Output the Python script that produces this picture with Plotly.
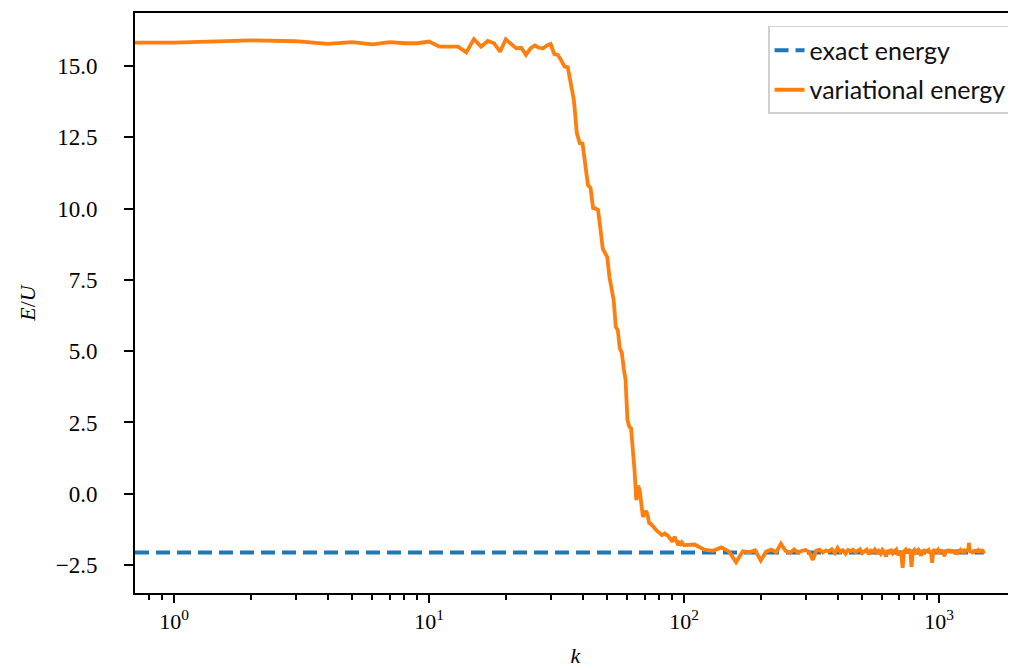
import plotly.graph_objects as go

# ---------------- data ----------------
EXACT_ENERGY = -2.06

# iterations 0..100 (one value per iteration)
k_head = list(range(0, 101))
e_head = [
    15.82, 15.82, 15.90, 15.87, 15.78, 15.84, 15.76, 15.84, 15.80, 15.80,   # 0-9
    15.86, 15.68, 15.68, 15.68, 15.48, 15.94, 15.68, 15.88, 15.80, 15.50,   # 10-19
    15.94, 15.78, 15.62, 15.64, 15.39, 15.62, 15.72, 15.64, 15.62, 15.72,   # 20-29
    15.77, 15.42, 15.39, 15.20, 14.98, 14.96, 14.40, 13.80, 12.65, 12.30,   # 30-39
    12.28, 11.47, 10.83, 10.72, 10.02, 10.00, 9.95, 9.30, 8.60, 8.45,       # 40-49
    8.30, 7.60, 7.10, 6.79, 5.85, 5.74, 5.10, 4.95, 4.40, 3.99,             # 50-59
    2.60, 2.35, 2.30, 1.60, 0.80, -0.22, 0.28, 0.13, -0.45, -0.81,          # 60-69
    -0.70, -0.60, -0.75, -1.03, -1.05, -1.12, -1.20, -1.25, -1.28, -1.33,   # 70-79
    -1.38, -1.42, -1.45, -1.42, -1.39, -1.44, -1.45, -1.50, -1.55, -1.60,   # 80-89
    -1.68, -1.58, -1.51, -1.62, -1.70, -1.80, -1.72, -1.76, -1.70, -1.74,   # 90-99
    -1.80,                                                                  # 100
]

# iterations 110..1500, every 10th
k_tail = list(range(110, 1501, 10))
e_tail = [
    -1.78, -1.96, -2.00, -1.88, -2.02, -2.40, -2.02, -2.05, -1.98, -2.34,   # 110-200
    -2.03, -1.96, -2.05, -1.75, -2.00, -2.08, -1.95, -2.06, -2.00, -1.97,   # 210-300
    -2.05, -2.32, -2.00, -1.96, -2.06, -1.99, -2.02, -1.95, -2.08, -1.90,   # 310-400
    -2.04, -1.98, -2.10, -1.97, -2.02, -1.96, -2.05, -2.00, -1.95, -2.08,   # 410-500
    -2.00, -1.96, -2.12, -1.99, -2.03, -1.95, -2.06, -2.00, -2.10, -1.97,   # 510-600
    -2.04, -2.20, -1.98, -2.05, -1.95, -2.08, -2.02, -1.96, -2.15, -2.05,   # 610-700
    -2.00, -2.60, -2.02, -1.96, -2.08, -2.00, -1.95, -2.56, -2.02, -1.97,   # 710-800
    -2.10, -2.00, -1.96, -2.05, -2.18, -1.98, -2.03, -1.95, -2.06, -2.00,   # 810-900
    -1.97, -2.08, -2.02, -2.42, -2.00, -1.95, -2.06, -2.01, -1.97, -2.10,   # 910-1000
    -2.00, -1.96, -2.05, -2.00, -2.20, -1.97, -2.04, -1.95, -2.06, -2.00,   # 1010-1100
    -2.02, -1.96, -2.08, -2.00, -1.97, -2.12, -2.01, -1.96, -2.05, -2.00,   # 1110-1200
    -1.98, -2.06, -1.95, -2.03, -2.00, -2.08, -1.97, -2.02, -1.96, -2.04,   # 1210-1300
    -1.72, -2.00, -2.06, -1.98, -2.03, -2.10, -1.97, -2.02, -1.96, -2.05,   # 1310-1400
    -2.00, -1.98, -2.06, -2.01, -1.96, -2.04, -2.00, -1.95, -2.08, -2.00,   # 1410-1500
]

k_vals = k_head + k_tail
e_vals = e_head + e_tail
exact_vals = [EXACT_ENERGY] * len(k_vals)

# axis limits (log10 units for x)
X_MIN = 0.703
X_RANGE_LOG = [-0.153, 3.302]
Y_RANGE = [-3.48, 16.86]
Y_TICKS = [-2.5, 0.0, 2.5, 5.0, 7.5, 10.0, 12.5, 15.0]
X_TICKS = [1, 10, 100, 1000]
X_TICKTEXT = ["10<sup>0</sup>", "10<sup>1</sup>", "10<sup>2</sup>", "10<sup>3</sup>"]

# like matplotlib's log clipping: k = 0 is drawn at the left edge
k_plot = [kk if kk > 0 else X_MIN for kk in k_vals]

minor_ticks = [m * 10 ** e for e in range(-1, 4) for m in range(2, 10)]

SERIF = "Liberation Serif"
SANS = "Lato"

fig = go.Figure()
fig.add_trace(go.Scatter(
    x=k_plot, y=exact_vals, mode="lines", name="exact energy",
    line=dict(color="#1f77b4", width=3.8, dash="14px,7px"),
    legendgroup="a",
))
fig.add_trace(go.Scatter(
    x=k_plot, y=e_vals, mode="lines", name="variational energy",
    line=dict(color="#ff7f0e", width=3.8),
    legendgroup="b",
))

# page is offset by the browser's default 8px body margin
fig.update_layout(
    width=1008, height=662,
    margin=dict(l=127, r=0, t=5, b=77),
    paper_bgcolor="white", plot_bgcolor="white",
    font=dict(family=SERIF, size=21, color="black"),
    showlegend=True,
    legend=dict(
        x=0.9955, y=0.9776, xanchor="right", yanchor="top",
        bgcolor="rgba(255,255,255,0.8)", bordercolor="#d0d0d0", borderwidth=1.5,
        font=dict(family=SANS, size=25, color="#111111"),
        tracegroupgap=4,
        entrywidth=246, entrywidthmode="pixels",
    ),
)

fig.update_xaxes(
    type="log", range=X_RANGE_LOG, automargin=False,
    showgrid=False, zeroline=False,
    showline=True, linecolor="black", linewidth=2, mirror=True,
    ticks="outside", ticklen=8, tickwidth=2, tickcolor="black",
    tickmode="array", tickvals=X_TICKS, ticktext=X_TICKTEXT,
    tickfont=dict(family=SERIF, size=22),
    minor=dict(tickmode="array", tickvals=minor_ticks, ticks="outside",
               ticklen=4.5, tickwidth=1.5, tickcolor="black", showgrid=False),
    title=dict(text="<i>k</i>", font=dict(family=SERIF, size=22), standoff=14),
)
fig.update_yaxes(
    range=Y_RANGE, automargin=False,
    showgrid=False, zeroline=False,
    showline=True, linecolor="black", linewidth=2, mirror=False,
    ticks="outside", ticklen=9, tickwidth=2, tickcolor="black",
    tickmode="array", tickvals=Y_TICKS, tickformat=".1f",
    tickfont=dict(family=SERIF, size=23),
    ticklabelstandoff=22,
    title=dict(text="<i>E</i>/<i>U</i>", font=dict(family=SERIF, size=22), standoff=14),
)

fig.write_html("out.html")
